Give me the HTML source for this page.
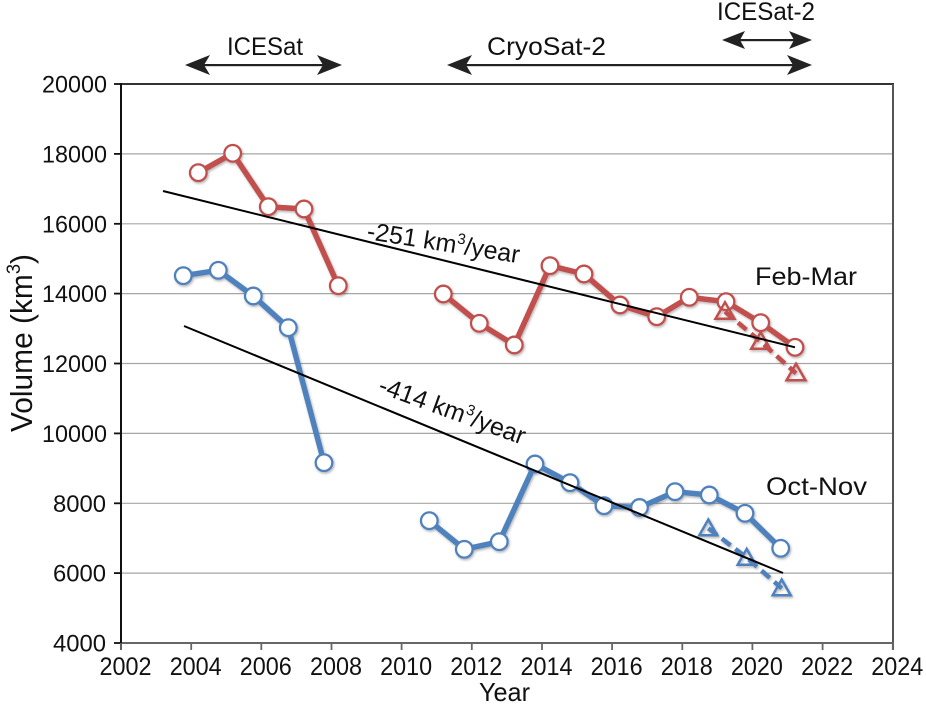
<!DOCTYPE html>
<html>
<head>
<meta charset="utf-8">
<style>
  html, body { margin: 0; padding: 0; background: #fff; }
  svg { display: block; }
  text { font-family: "Liberation Sans", "DejaVu Sans", sans-serif; fill: #111; }
</style>
</head>
<body>
<svg width="926" height="705" viewBox="0 0 926 705" xmlns="http://www.w3.org/2000/svg">
  <defs>
    <filter id="sh" x="-10%" y="-10%" width="130%" height="130%">
      <feDropShadow dx="1" dy="1.5" stdDeviation="1.2" flood-color="#000" flood-opacity="0.3"/>
    </filter>
  </defs>

  <!-- gridlines -->
  <g stroke="#a6a6a6" stroke-width="1.2">
    <line x1="121" y1="573.1" x2="893" y2="573.1"/>
    <line x1="121" y1="503.3" x2="893" y2="503.3"/>
    <line x1="121" y1="433.4" x2="893" y2="433.4"/>
    <line x1="121" y1="363.5" x2="893" y2="363.5"/>
    <line x1="121" y1="293.6" x2="893" y2="293.6"/>
    <line x1="121" y1="223.8" x2="893" y2="223.8"/>
    <line x1="121" y1="153.9" x2="893" y2="153.9"/>
  </g>

  <!-- frame -->
  <line x1="120" y1="84" x2="894" y2="84" stroke="#333" stroke-width="2"/>
  <line x1="893" y1="84" x2="893" y2="650" stroke="#555" stroke-width="2"/>
  <line x1="121" y1="643" x2="894" y2="643" stroke="#666" stroke-width="2"/>
  <line x1="121" y1="83" x2="121" y2="650" stroke="#111" stroke-width="2"/>

  <!-- y ticks -->
  <g stroke="#111" stroke-width="1.8">
    <line x1="114" y1="84" x2="121" y2="84"/>
    <line x1="114" y1="153.9" x2="121" y2="153.9"/>
    <line x1="114" y1="223.8" x2="121" y2="223.8"/>
    <line x1="114" y1="293.6" x2="121" y2="293.6"/>
    <line x1="114" y1="363.5" x2="121" y2="363.5"/>
    <line x1="114" y1="433.4" x2="121" y2="433.4"/>
    <line x1="114" y1="503.3" x2="121" y2="503.3"/>
    <line x1="114" y1="573.1" x2="121" y2="573.1"/>
    <line x1="114" y1="643" x2="121" y2="643"/>
  </g>
  <!-- x ticks -->
  <g stroke="#666" stroke-width="1.8">
    <line x1="121" y1="643" x2="121" y2="650"/>
    <line x1="191.2" y1="643" x2="191.2" y2="650"/>
    <line x1="261.3" y1="643" x2="261.3" y2="650"/>
    <line x1="331.5" y1="643" x2="331.5" y2="650"/>
    <line x1="401.6" y1="643" x2="401.6" y2="650"/>
    <line x1="471.8" y1="643" x2="471.8" y2="650"/>
    <line x1="542" y1="643" x2="542" y2="650"/>
    <line x1="612.1" y1="643" x2="612.1" y2="650"/>
    <line x1="682.3" y1="643" x2="682.3" y2="650"/>
    <line x1="752.4" y1="643" x2="752.4" y2="650"/>
    <line x1="822.6" y1="643" x2="822.6" y2="650"/>
    <line x1="892.8" y1="643" x2="892.8" y2="650"/>
  </g>

  <!-- y tick labels -->
  <g font-size="24" text-anchor="end">
    <text x="107" y="92.5" textLength="65" lengthAdjust="spacingAndGlyphs">20000</text>
    <text x="107" y="162.4" textLength="65" lengthAdjust="spacingAndGlyphs">18000</text>
    <text x="107" y="232.3" textLength="65" lengthAdjust="spacingAndGlyphs">16000</text>
    <text x="107" y="302.1" textLength="65" lengthAdjust="spacingAndGlyphs">14000</text>
    <text x="107" y="372" textLength="65" lengthAdjust="spacingAndGlyphs">12000</text>
    <text x="107" y="441.9" textLength="65" lengthAdjust="spacingAndGlyphs">10000</text>
    <text x="106" y="511.8" textLength="53" lengthAdjust="spacingAndGlyphs">8000</text>
    <text x="106" y="581.6" textLength="53" lengthAdjust="spacingAndGlyphs">6000</text>
    <text x="106" y="651.5" textLength="53" lengthAdjust="spacingAndGlyphs">4000</text>
  </g>

  <!-- x tick labels -->
  <g font-size="25" text-anchor="middle">
    <text x="125.5" y="675" textLength="52" lengthAdjust="spacingAndGlyphs">2002</text>
    <text x="195.7" y="675" textLength="52" lengthAdjust="spacingAndGlyphs">2004</text>
    <text x="265.8" y="675" textLength="52" lengthAdjust="spacingAndGlyphs">2006</text>
    <text x="336" y="675" textLength="52" lengthAdjust="spacingAndGlyphs">2008</text>
    <text x="406.1" y="675" textLength="52" lengthAdjust="spacingAndGlyphs">2010</text>
    <text x="476.3" y="675" textLength="52" lengthAdjust="spacingAndGlyphs">2012</text>
    <text x="546.5" y="675" textLength="52" lengthAdjust="spacingAndGlyphs">2014</text>
    <text x="616.6" y="675" textLength="52" lengthAdjust="spacingAndGlyphs">2016</text>
    <text x="686.8" y="675" textLength="52" lengthAdjust="spacingAndGlyphs">2018</text>
    <text x="756.9" y="675" textLength="52" lengthAdjust="spacingAndGlyphs">2020</text>
    <text x="827.1" y="675" textLength="52" lengthAdjust="spacingAndGlyphs">2022</text>
    <text x="897.3" y="675" textLength="52" lengthAdjust="spacingAndGlyphs">2024</text>
  </g>

  <!-- axis titles -->
  <text x="504.5" y="701" font-size="26" text-anchor="middle" textLength="51" lengthAdjust="spacingAndGlyphs">Year</text>
  <text transform="translate(32,343) rotate(-90)" font-size="31" text-anchor="middle" textLength="178" lengthAdjust="spacingAndGlyphs">Volume (km<tspan font-size="19" dy="-12">3</tspan><tspan dy="12">)</tspan></text>

  <!-- satellite arrows -->
  <g fill="#222" stroke="none">
    <rect x="200" y="64" width="128" height="2.2"/>
    <polygon points="185,65 210,55 204,65 210,75"/>
    <polygon points="342,65 317,55 323,65 317,75"/>
    <rect x="462" y="64" width="335" height="2.2"/>
    <polygon points="447,65 472,55 466,65 472,75"/>
    <polygon points="812,65 787,55 793,65 787,75"/>
    <rect x="736" y="39" width="62" height="2.2"/>
    <polygon points="722,40 745,31 740,40 745,49"/>
    <polygon points="812,40 789,31 794,40 789,49"/>
  </g>
  <g font-size="25">
    <text x="227" y="55" textLength="76" lengthAdjust="spacingAndGlyphs">ICESat</text>
    <text x="487" y="55" textLength="119" lengthAdjust="spacingAndGlyphs">CryoSat-2</text>
    <text x="717" y="20" textLength="98" lengthAdjust="spacingAndGlyphs">ICESat-2</text>
  </g>

  <!-- series labels -->
  <text x="755" y="285" font-size="25" textLength="102" lengthAdjust="spacingAndGlyphs">Feb-Mar</text>
  <text x="766" y="495" font-size="25" textLength="101" lengthAdjust="spacingAndGlyphs">Oct-Nov</text>

  <!-- RED series -->
  <g filter="url(#sh)">
    <g fill="none" stroke="#C0504D" stroke-width="5.5" stroke-linejoin="round">
      <polyline points="198.3,172.7 232.7,153.3 268.3,206.7 304,209 338.3,285.7"/>
      <polyline points="443.3,294 479.3,323.3 514.3,345 550,265.7 584,274 620,305 656.7,316.7 689.3,297.3 726,301.7 760.7,322.7 795,347.3"/>
      <polyline points="725,311.7 760.7,341.7 796,373.3" stroke-width="4.5" stroke-dasharray="11,6"/>
    </g>
    <g fill="#fff" stroke="#C0504D" stroke-width="2.3">
      <circle cx="198.3" cy="172.7" r="8.3"/>
      <circle cx="232.7" cy="153.3" r="8.3"/>
      <circle cx="268.3" cy="206.7" r="8.3"/>
      <circle cx="304" cy="209" r="8.3"/>
      <circle cx="338.3" cy="285.7" r="8.3"/>
      <circle cx="443.3" cy="294" r="8.3"/>
      <circle cx="479.3" cy="323.3" r="8.3"/>
      <circle cx="514.3" cy="345" r="8.3"/>
      <circle cx="550" cy="265.7" r="8.3"/>
      <circle cx="584" cy="274" r="8.3"/>
      <circle cx="620" cy="305" r="8.3"/>
      <circle cx="656.7" cy="316.7" r="8.3"/>
      <circle cx="689.3" cy="297.3" r="8.3"/>
      <circle cx="726" cy="301.7" r="8.3"/>
      <circle cx="760.7" cy="322.7" r="8.3"/>
      <circle cx="795" cy="347.3" r="8.3"/>
    </g>
    <g fill="none" stroke="#C0504D" stroke-width="2.5" stroke-linejoin="miter">
      <polygon points="725,302.2 734.5,318.7 715.5,318.7"/>
      <polygon points="760.7,332.2 770.2,348.7 751.2,348.7"/>
      <polygon points="796,363.8 805.5,380.3 786.5,380.3"/>
    </g>
  </g>

  <!-- BLUE series -->
  <g filter="url(#sh)">
    <g fill="none" stroke="#4F81BD" stroke-width="5.5" stroke-linejoin="round">
      <polyline points="183.3,275.7 218.3,270.3 253.3,296 288.3,327.7 324,462.7"/>
      <polyline points="429.3,520.7 464.3,549.3 499.3,541.7 535,464 570,482.7 604,505.7 639.5,507.5 675,491.7 709.3,495 745,513.3 780.7,548.3"/>
      <polyline points="708.3,528.3 746.7,557.7 781.7,588.3" stroke-width="4.5" stroke-dasharray="11,6"/>
    </g>
    <g fill="#fff" stroke="#4F81BD" stroke-width="2.3">
      <circle cx="183.3" cy="275.7" r="8.3"/>
      <circle cx="218.3" cy="270.3" r="8.3"/>
      <circle cx="253.3" cy="296" r="8.3"/>
      <circle cx="288.3" cy="327.7" r="8.3"/>
      <circle cx="324" cy="462.7" r="8.3"/>
      <circle cx="429.3" cy="520.7" r="8.3"/>
      <circle cx="464.3" cy="549.3" r="8.3"/>
      <circle cx="499.3" cy="541.7" r="8.3"/>
      <circle cx="535" cy="464" r="8.3"/>
      <circle cx="570" cy="482.7" r="8.3"/>
      <circle cx="604" cy="505.7" r="8.3"/>
      <circle cx="639.5" cy="507.5" r="8.3"/>
      <circle cx="675" cy="491.7" r="8.3"/>
      <circle cx="709.3" cy="495" r="8.3"/>
      <circle cx="745" cy="513.3" r="8.3"/>
      <circle cx="780.7" cy="548.3" r="8.3"/>
    </g>
    <g fill="none" stroke="#4F81BD" stroke-width="2.5" stroke-linejoin="miter">
      <polygon points="708.3,519.5 717.3,535.3 699.3,535.3"/>
      <polygon points="746.7,548.9 755.7,564.7 737.7,564.7"/>
      <polygon points="781.7,579.5 790.7,595.3 772.7,595.3"/>
    </g>
  </g>

  <!-- trend lines -->
  <line x1="163" y1="191" x2="795" y2="347.3" stroke="#000" stroke-width="2"/>
  <line x1="184" y1="326" x2="783" y2="573" stroke="#000" stroke-width="2"/>

  <!-- trend annotations -->
  <text transform="translate(366,239) rotate(9)" font-size="25">-251 km<tspan font-size="15" dy="-10">3</tspan><tspan dy="10">/year</tspan></text>
  <text transform="translate(377,392) rotate(20)" font-size="25">-414 km<tspan font-size="15" dy="-10">3</tspan><tspan dy="10">/year</tspan></text>
</svg>
</body>
</html>
